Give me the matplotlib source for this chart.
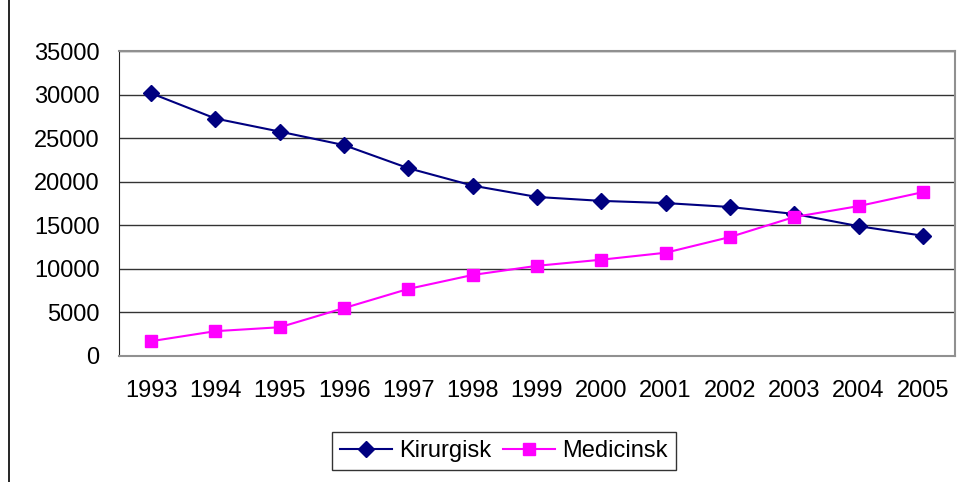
import matplotlib.pyplot as plt
from matplotlib.patches import Rectangle

plt.rcParams['font.family'] = ['Liberation Sans', 'DejaVu Sans']

years = ['1993', '1994', '1995', '1996', '1997', '1998', '1999',
         '2000', '2001', '2002', '2003', '2004', '2005']
kirurgisk = [30150, 27250, 25750, 24200, 21550, 19550, 18250,
             17800, 17550, 17100, 16300, 14900, 13800]
medicinsk = [1700, 2850, 3300, 5500, 7700, 9300, 10350,
             11050, 11850, 13650, 15950, 17200, 18800]

fig = plt.figure(figsize=(9.59, 4.82), dpi=100)
ax = fig.add_axes([119 / 959, 126 / 482, 836 / 959, 305 / 482])

x = range(len(years))
ax.plot(x, kirurgisk, color='#000080', marker='D', markersize=8,
        linewidth=1.5, label='Kirurgisk')
ax.plot(x, medicinsk, color='#ff00ff', marker='s', markersize=8,
        linewidth=1.5, label='Medicinsk')

ax.set_xlim(-0.5, len(years) - 0.5)
ax.set_ylim(0, 35000)
ax.set_yticks(range(0, 35001, 5000))
ax.set_xticks(list(x))
ax.set_xticklabels(years)
ax.tick_params(axis='both', length=0, labelsize=17, colors='black')
ax.tick_params(axis='x', pad=17)
ax.tick_params(axis='y', pad=14)
ax.yaxis.grid(True, color='#333333', linewidth=1)
ax.set_axisbelow(True)

ax.spines['left'].set_color('#222222')
for s in ['top', 'right', 'bottom']:
    ax.spines[s].set_color('#909090')
    ax.spines[s].set_linewidth(1.5)

leg = ax.legend(loc='center', bbox_to_anchor=(504 / 959, 31 / 482),
                bbox_transform=fig.transFigure, ncol=2, frameon=True,
                fancybox=False, edgecolor='black', fontsize=17,
                numpoints=1, handlelength=2.2, handletextpad=0.3,
                columnspacing=0.5, borderpad=0.35, borderaxespad=0)
leg.get_frame().set_linewidth(1)

# Rahmen des Diagrammbereichs
fig.patches.append(Rectangle((9 / 959, -0.1), 2, 2, transform=fig.transFigure,
                             fill=False, edgecolor='black', linewidth=1.2))

fig.savefig('out.png', dpi=100)
